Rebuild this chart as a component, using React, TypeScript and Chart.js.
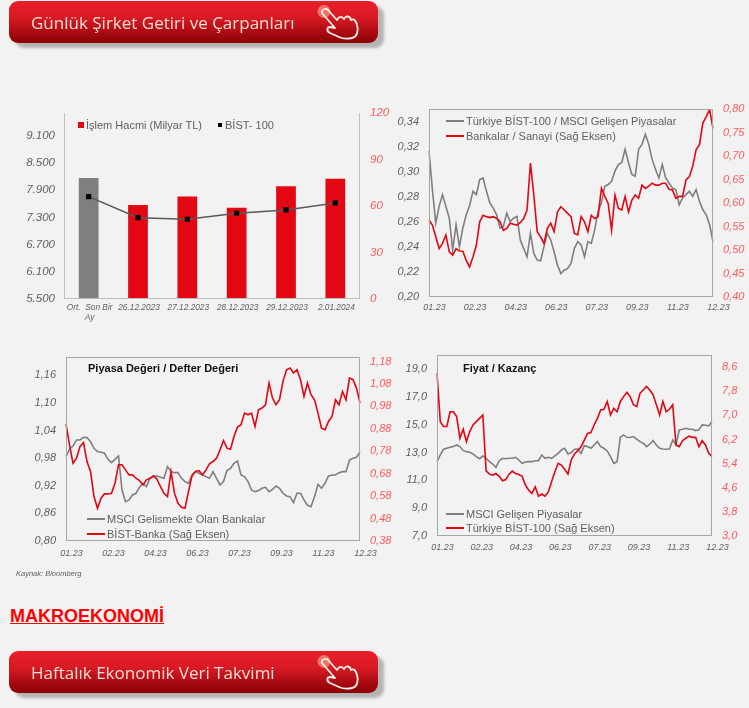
import React, { useEffect, useRef } from "react";
import { Chart, registerables } from "chart.js";

Chart.register(...registerables);

const FONT = "'Liberation Sans', Arial, sans-serif";
const GRAY_TEXT = "#606060";
const RED_TICK = "#ff5b5b";
const RED = "#e30613";
const GRAY = "#7f7f7f";

// Chart 1
const volumeCategories: (string | string[])[] = [["Ort.  Son Bir", "Ay"], "26.12.2023", "27.12.2023", "28.12.2023", "29.12.2023", "2.01.2024"];
const volumeValues = [78, 60.6, 66.2, 58.9, 72.7, 77.6];
const bist100Values = [7757, 7293, 7258, 7390, 7463, 7618];
const volumeLeftTicks = [5500, 6100, 6700, 7300, 7900, 8500, 9100];
const volumeRightTicks = [0, 30, 60, 90, 120];

// Shared date labels
const monthLabels = ["01.23", "02.23", "04.23", "06.23", "07.23", "09.23", "11.23", "12.23"];

// Chart 2
const bistMsciRatio = [
  0.3165, 0.2857, 0.2589, 0.2723, 0.2817, 0.2723, 0.2629, 0.2375, 0.2576, 0.2402, 0.2549, 0.2656, 0.2728, 0.2843, 0.2817,
  0.2937, 0.295, 0.2843, 0.275, 0.2709, 0.2656, 0.2549, 0.2562, 0.2669, 0.2602, 0.2629, 0.2643, 0.2455, 0.2388, 0.2321,
  0.2509, 0.2348, 0.2294, 0.2289, 0.2402, 0.2509, 0.2455, 0.2361, 0.2254, 0.2187, 0.2214, 0.2228, 0.2268, 0.2388, 0.2442,
  0.2415, 0.2321, 0.2442, 0.2428, 0.2535, 0.2683, 0.275, 0.2883, 0.2897, 0.2923, 0.3004, 0.3057, 0.3071, 0.3178, 0.3071,
  0.2977, 0.2964, 0.3178, 0.3218, 0.3298, 0.3218, 0.3098, 0.3017, 0.295, 0.3057, 0.295, 0.291, 0.287, 0.2857, 0.2736,
  0.279, 0.2817, 0.2843, 0.2803, 0.2857, 0.2763, 0.2696, 0.2656, 0.2576, 0.2442,
];
const banksIndustry = [
  0.5637, 0.553, 0.528, 0.503, 0.514, 0.532, 0.496, 0.489, 0.503, 0.498, 0.4975, 0.478, 0.464, 0.485, 0.51,
  0.56, 0.574, 0.571, 0.569, 0.571, 0.567, 0.56, 0.542, 0.546, 0.557, 0.555, 0.553, 0.558, 0.567, 0.585,
  0.685, 0.617, 0.539, 0.528, 0.514, 0.546, 0.557, 0.539, 0.581, 0.592, 0.585, 0.578, 0.571, 0.535, 0.532,
  0.571, 0.56, 0.539, 0.574, 0.567, 0.571, 0.631, 0.614, 0.599, 0.542, 0.617, 0.589, 0.585, 0.614, 0.581,
  0.606, 0.617, 0.61, 0.638, 0.631, 0.636, 0.642, 0.638, 0.638, 0.642, 0.642, 0.629, 0.628, 0.61, 0.614,
  0.614, 0.649, 0.656, 0.678, 0.713, 0.724, 0.77, 0.784, 0.799, 0.759,
];
const ratioLeftTicks = [0.2, 0.22, 0.24, 0.26, 0.28, 0.3, 0.32, 0.34];
const ratioRightTicks = [0.4, 0.45, 0.5, 0.55, 0.6, 0.65, 0.7, 0.75, 0.8];

// Chart 3
const msciBanksPb = [
  0.9834, 0.9994, 1.0066, 1.0197, 1.0197, 1.0255, 1.0248, 1.016, 1.0016, 0.9943, 0.9929, 0.9907, 0.9776, 0.9704, 0.9776,
  0.9849, 0.9109, 0.8856, 0.8892, 0.9, 0.9037, 0.9167, 0.9254, 0.9182, 0.9363, 0.94, 0.9414, 0.9385, 0.9363, 0.9617,
  0.9508, 0.9486, 0.9486, 0.9363, 0.9291, 0.9254, 0.9436, 0.9508, 0.9472, 0.9436, 0.94, 0.9363, 0.9508, 0.9363, 0.9218,
  0.9291, 0.953, 0.958, 0.969, 0.974, 0.9436, 0.94, 0.9291, 0.9109, 0.9073, 0.9095, 0.9146, 0.9167, 0.9073, 0.9124,
  0.9196, 0.9146, 0.9037, 0.8979, 0.8964, 0.8834, 0.9037, 0.9037, 0.8892, 0.8776, 0.8747, 0.8964, 0.9232, 0.9146, 0.9254,
  0.9414, 0.9436, 0.9436, 0.9486, 0.9508, 0.9508, 0.9762, 0.9798, 0.9819, 0.9943,
];
const bistBankPb = [
  0.9023, 0.8086, 0.7267, 0.749, 0.801, 0.819, 0.734, 0.6895, 0.578, 0.5258, 0.5705, 0.5898, 0.5898, 0.5928, 0.6374,
  0.7193, 0.7193, 0.697, 0.6746, 0.6746, 0.6598, 0.6493, 0.63, 0.6523, 0.6598, 0.6702, 0.6553, 0.6226, 0.5928, 0.578,
  0.6895, 0.5928, 0.5482, 0.5303, 0.5258, 0.6002, 0.6702, 0.6895, 0.694, 0.6746, 0.697, 0.7238, 0.7342, 0.749, 0.7863,
  0.8279, 0.7937, 0.7892, 0.8458, 0.8874, 0.8979, 0.9499, 0.9425, 0.9499, 0.8904, 0.9648, 0.9723, 0.9872, 1.0839, 1.0169,
  0.9872, 1.0095, 1.0913, 1.1434, 1.1509, 1.1285, 1.1434, 1.0988, 1.0243, 1.0839, 1.0318, 1.0095, 0.9499, 0.883, 0.8756,
  0.9127, 0.935, 1.0095, 0.9872, 1.0467, 1.0095, 1.1062, 1.0988, 1.0615, 0.9946,
];
const pbLeftTicks = [0.8, 0.86, 0.92, 0.98, 1.04, 1.1, 1.16];
const pbRightTicks = [0.38, 0.48, 0.58, 0.68, 0.78, 0.88, 0.98, 1.08, 1.18];

// Chart 4
const msciEmPe = [
  12.34, 12.82, 13.23, 13.3, 13.37, 13.42, 13.54, 13.42, 13.13, 13.06, 13.01, 12.89, 12.7, 12.55, 12.75,
  12.58, 12.34, 12.17, 11.93, 12.41, 12.58, 12.55, 12.58, 12.58, 12.65, 12.46, 12.22, 12.31, 12.34, 12.34,
  12.41, 12.41, 12.82, 12.58, 12.65, 12.58, 12.75, 12.94, 13.18, 13.3, 12.89, 12.99, 13.23, 13.25, 12.94,
  13.49, 13.42, 13.3, 13.54, 13.78, 13.42, 13.3, 13.11, 12.7, 12.22, 12.34, 14.09, 14.26, 14.09, 14.07,
  14.14, 13.95, 13.78, 13.66, 13.42, 13.59, 13.85, 13.54, 13.3, 13.25, 13.23, 13.25, 13.9, 13.54, 14.62,
  14.67, 14.74, 14.67, 14.67, 14.57, 14.62, 14.98, 14.96, 14.91, 15.22,
];
const bist100Pe = [
  8.4, 6.79, 6.63, 6.63, 7.12, 7.12, 6.96, 6.24, 6.54, 6.13, 6.46, 6.68, 6.79, 6.9, 7.01,
  5.16, 5.05, 5.02, 5.07, 4.98, 4.83, 4.87, 5.05, 5.15, 5.07, 5.04, 4.98, 4.69, 4.52, 4.41,
  4.63, 4.32, 4.39, 4.32, 4.46, 4.8, 5.13, 5.41, 5.35, 5.21, 5.05, 5.52, 5.72, 5.83, 5.96,
  6.18, 6.4, 6.43, 6.68, 6.9, 7.18, 7.2, 7.46, 7.01, 7.23, 7.12, 7.46, 7.62, 7.76, 7.62,
  7.35, 7.29, 7.73, 7.84, 7.96, 7.84, 7.68, 7.35, 7.01, 7.46, 7.12, 7.2, 7.35, 6.02, 5.96,
  6.16, 6.24, 6.31, 6.27, 6.27, 5.96, 6.16, 6.02, 5.74, 5.63,
];
const peLeftTicks = [7, 9, 11, 13, 15, 17, 19];
const peRightTicks = [3, 3.8, 4.6, 5.4, 6.2, 7, 7.8, 8.6];

const xLabelsFor = (count: number, ticks: string[]) => {
  const step = (count - 1) / (ticks.length - 1);
  return Array.from({ length: count }, (_, i) => (i % step === 0 ? ticks[i / step] : ""));
};

const comma = (d: number) => (v: number) => v.toFixed(d).replace(".", ",");
const thousands = (v: number) => String(v).replace(/(\d)(\d{3})$/, "$1.$2");

const framePlugin = (color: string, sides: string) => ({
  id: "frame",
  afterDatasetsDraw(chart: any) {
    const { left, right, top, bottom } = chart.chartArea;
    const c = chart.ctx;
    c.save();
    c.strokeStyle = color;
    c.lineWidth = 1;
    c.beginPath();
    if (sides.includes("t")) { c.moveTo(left, top + 0.5); c.lineTo(right, top + 0.5); }
    c.moveTo(Math.round(left) + 0.5, top); c.lineTo(Math.round(left) + 0.5, bottom);
    c.moveTo(Math.round(right) - 0.5, top); c.lineTo(Math.round(right) - 0.5, bottom);
    c.moveTo(left, Math.round(bottom) - 0.5); c.lineTo(right, Math.round(bottom) - 0.5);
    c.stroke();
    c.restore();
  },
});

type Box = { left: number; right: number; top: number; bottom: number };
const M = { l: 50, r: 40, t: 10, b: 24 };

function buildOptions(opts: {
  box: Box; leftTicks: number[]; rightTicks: number[]; leftRange: [number, number]; rightRange: [number, number];
  leftFmt: (v: number) => string; rightFmt: (v: number) => string; xFont: number; xPadding: number; labelOffset: number;
  offset: boolean; leftSize: number; rightSize: number; leftPad: number; rightPad: number;
}) {
  const noBorder = { display: false };
  const yAxis = (pos: string, ticks: number[], range: [number, number], fmt: (v: number) => string, color: string, side: "l" | "r", size: number, pad: number) => ({
    type: "linear",
    position: pos,
    min: range[0],
    max: range[1],
    grid: { display: false, drawTicks: false },
    border: noBorder,
    afterBuildTicks: (s: any) => { s.ticks = ticks.map((value) => ({ value })); },
    afterFit: (s: any) => {
      s.width = side === "l" ? M.l : M.r;
      s.paddingTop = 0;
      s.paddingBottom = 0;
    },
    ticks: {
      autoSkip: false,
      padding: pad,
      color,
      font: { family: FONT, style: "italic", size },
      callback: (v: any) => fmt(Number(v)),
    },
  });
  return {
    responsive: false,
    animation: false as const,
    layout: { padding: { top: M.t, left: 0, right: 0, bottom: 0 } },
    plugins: { legend: { display: false }, title: { display: false }, tooltip: { enabled: false } },
    scales: {
      x: {
        type: "category",
        offset: opts.offset,
        grid: { display: false, drawTicks: false },
        border: noBorder,
        afterFit: (s: any) => {
          s.height = M.b;
          s.paddingLeft = 0;
          s.paddingRight = 0;
        },
        ticks: {
          autoSkip: false, minRotation: 0, maxRotation: 0, padding: opts.xPadding, labelOffset: opts.labelOffset,
          color: GRAY_TEXT, font: { family: FONT, style: "italic", size: opts.xFont, lineHeight: 1.15 },
        },
      },
      y: yAxis("left", opts.leftTicks, opts.leftRange, opts.leftFmt, GRAY_TEXT, "l", opts.leftSize, opts.leftPad),
      y1: yAxis("right", opts.rightTicks, opts.rightRange, opts.rightFmt, RED_TICK, "r", opts.rightSize, opts.rightPad),
    },
  };
}

function ChartCanvas({ box, config }: { box: Box; config: () => any }) {
  const ref = useRef<HTMLCanvasElement>(null);
  const w = box.right - box.left + M.l + M.r;
  const h = box.bottom - box.top + M.t + M.b;
  useEffect(() => {
    const chart = new Chart(ref.current as HTMLCanvasElement, config());
    return () => chart.destroy();
  }, []);
  return (
    <canvas
      ref={ref}
      width={w}
      height={h}
      style={{ position: "absolute", left: box.left - M.l, top: box.top - M.t, width: w, height: h, display: "block" }}
    />
  );
}

const volumeBox: Box = { left: 64, right: 360, top: 113, bottom: 299 };
const ratioBox: Box = { left: 429, right: 713, top: 109, bottom: 297 };
const pbBox: Box = { left: 66, right: 360, top: 357, bottom: 541 };
const peBox: Box = { left: 437, right: 712, top: 355, bottom: 536 };

const volumeConfig = () => ({
  type: "bar",
  data: {
    labels: volumeCategories,
    datasets: [
      {
        type: "line", label: "BİST- 100", data: bist100Values, yAxisID: "y", borderColor: "#595959", borderWidth: 1.5,
        pointStyle: "rect", pointRadius: 2.6, pointBackgroundColor: "#000", pointBorderColor: "#000", tension: 0,
      },
      {
        type: "bar", label: "İşlem Hacmi (Milyar TL)", data: volumeValues, yAxisID: "y1",
        backgroundColor: [GRAY, RED, RED, RED, RED, RED], barPercentage: 0.4, categoryPercentage: 1,
      },
    ],
  },
  options: buildOptions({
    box: volumeBox, leftTicks: volumeLeftTicks, rightTicks: volumeRightTicks, leftRange: [5500, 9600], rightRange: [0, 120],
    leftFmt: thousands, rightFmt: (v) => String(v), xFont: 8.3, xPadding: 4, labelOffset: 1, offset: true,
    leftSize: 11.5, rightSize: 11.5, leftPad: 9, rightPad: 10,
  }),
  plugins: [framePlugin("#bfbfbf", "")],
});

const lineConfig = (box: Box, gray: number[], red: number[], grayName: string, redName: string, leftTicks: number[], rightTicks: number[], leftRange: [number, number], rightRange: [number, number], leftFmt: (v: number) => string, rightFmt: (v: number) => string, labelOffset: number, xPadding: number) => () => ({
  type: "line",
  data: {
    labels: xLabelsFor(gray.length, monthLabels),
    datasets: [
      { label: redName, data: red, yAxisID: "y1", borderColor: RED, borderWidth: 1.6, pointRadius: 0, tension: 0 },
      { label: grayName, data: gray, yAxisID: "y", borderColor: GRAY, borderWidth: 1.6, pointRadius: 0, tension: 0 },
    ],
  },
  options: buildOptions({
    box, leftTicks, rightTicks, leftRange, rightRange, leftFmt, rightFmt, xFont: 9, xPadding, labelOffset, offset: false,
    leftSize: 11, rightSize: 11, leftPad: 10, rightPad: 10,
  }),
  plugins: [framePlugin("#a6a6a6", "t")],
});

const ratioConfig = lineConfig(ratioBox, bistMsciRatio, banksIndustry, "Türkiye BİST-100 / MSCI Gelişen Piyasalar", "Bankalar / Sanayi (Sağ Eksen)", ratioLeftTicks, ratioRightTicks, [0.2, 0.35], [0.4, 0.8], comma(2), comma(2), 5.5, 5);
const pbConfig = lineConfig(pbBox, msciBanksPb, bistBankPb, "MSCI Gelismekte Olan Bankalar", "BİST-Banka (Sağ Eksen)", pbLeftTicks, pbRightTicks, [0.8, 1.2], [0.38, 1.2], comma(2), comma(2), 5.5, 7);
const peConfig = lineConfig(peBox, msciEmPe, bist100Pe, "MSCI Gelişen Piyasalar", "Türkiye BİST-100 (Sağ Eksen)", peLeftTicks, peRightTicks, [7, 20], [3, 9], comma(1), comma(1), 5.5, 6);

function Txt({ x, y, children, style }: { x: number; y: number; children: React.ReactNode; style?: React.CSSProperties }) {
  return (
    <div style={{ position: "absolute", left: x, top: y, transform: "translateY(-50%)", whiteSpace: "nowrap", fontFamily: FONT, fontSize: 11, lineHeight: 1, color: GRAY_TEXT, ...style }}>
      {children}
    </div>
  );
}
function LegendRow({ x, y, color, label }: { x: number; y: number; color: string; label: string }) {
  return (
    <>
      <div style={{ position: "absolute", left: x, top: y - 1, width: 18, height: 2, background: color }} />
      <Txt x={x + 20} y={y}>{label}</Txt>
    </>
  );
}

function Banner({ top, label }: { top: number; label: string }) {
  return (
    <div style={{ position: "absolute", left: 9, top, width: 369, height: 42, borderRadius: 9, background: "linear-gradient(#ea1f2a 0%, #d81a24 40%, #8a0005 100%)", boxShadow: "6px 5px 3px #b4b4b4" }}>
      <div style={{ position: "absolute", left: 22, top: 21, transform: "translateY(-50%)", fontFamily: "'Open Sans', sans-serif", fontSize: 17, lineHeight: 1, color: "#f7ddd3", whiteSpace: "nowrap", filter: "blur(0.3px)" }}>{label}</div>
      <svg width={50} height={42} viewBox="0 0 50 42" style={{ position: "absolute", left: 303, top: 0 }}>
        <circle cx={12} cy={10.5} r={6.5} fill="#f59a80" opacity={0.7} />
        <path d="M10 12 C9 8 14 7 16 9 L25 19 C27 15 30 15 32 18 C34 14 38 15 39 19 C42 17 44 20 45 24 C47 30 45 36 40 37 C35 38 30 37.5 27 36 L18 32 C14 30 15 26 18 26 L23 27 Z" fill="none" stroke="#fbeee8" strokeWidth={1.8} strokeLinejoin="round" />
      </svg>
    </div>
  );
}

export default function App() {
  return (
    <div style={{ position: "absolute", left: 0, top: 0, width: 749, height: 708, background: "#f2f2f2", overflow: "hidden" }}>
      <Banner top={1} label="Günlük Şirket Getiri ve Çarpanları" />
      <div style={{ position: "absolute", left: 0, top: 0, width: 749, height: 590, filter: "blur(0.4px)" }}>
        <ChartCanvas box={volumeBox} config={volumeConfig} />
        <ChartCanvas box={ratioBox} config={ratioConfig} />
        <ChartCanvas box={pbBox} config={pbConfig} />
        <ChartCanvas box={peBox} config={peConfig} />

        <div style={{ position: "absolute", left: 78, top: 122, width: 6, height: 6, background: RED }} />
        <Txt x={86} y={124.5}>İşlem Hacmi (Milyar TL)</Txt>
        <div style={{ position: "absolute", left: 218, top: 123, width: 3.5, height: 3.5, background: "#000" }} />
        <Txt x={225} y={124.5}>BİST- 100</Txt>

        <LegendRow x={446} y={120.5} color={GRAY} label="Türkiye BİST-100 / MSCI Gelişen Piyasalar" />
        <LegendRow x={446} y={136} color={RED} label="Bankalar / Sanayi (Sağ Eksen)" />

        <Txt x={88} y={368} style={{ fontWeight: 700, color: "#111" }}>Piyasa Değeri / Defter Değeri</Txt>
        <LegendRow x={87} y={519} color={GRAY} label="MSCI Gelismekte Olan Bankalar" />
        <LegendRow x={87} y={533.5} color={RED} label="BİST-Banka (Sağ Eksen)" />

        <Txt x={463} y={368} style={{ fontWeight: 700, color: "#111" }}>Fiyat / Kazanç</Txt>
        <LegendRow x={446} y={513.5} color={GRAY} label="MSCI Gelişen Piyasalar" />
        <LegendRow x={446} y={527.5} color={RED} label="Türkiye BİST-100 (Sağ Eksen)" />

        <Txt x={16} y={574} style={{ fontSize: 7.5, fontStyle: "italic" }}>Kaynak: Bloomberg</Txt>
      </div>
      <div style={{ position: "absolute", left: 10, top: 606, fontFamily: FONT, fontWeight: 700, fontSize: 18, lineHeight: "20px", color: "#ff0000", textDecoration: "underline", whiteSpace: "nowrap" }}>MAKROEKONOMİ</div>
      <Banner top={651} label="Haftalık Ekonomik Veri Takvimi" />
    </div>
  );
}
